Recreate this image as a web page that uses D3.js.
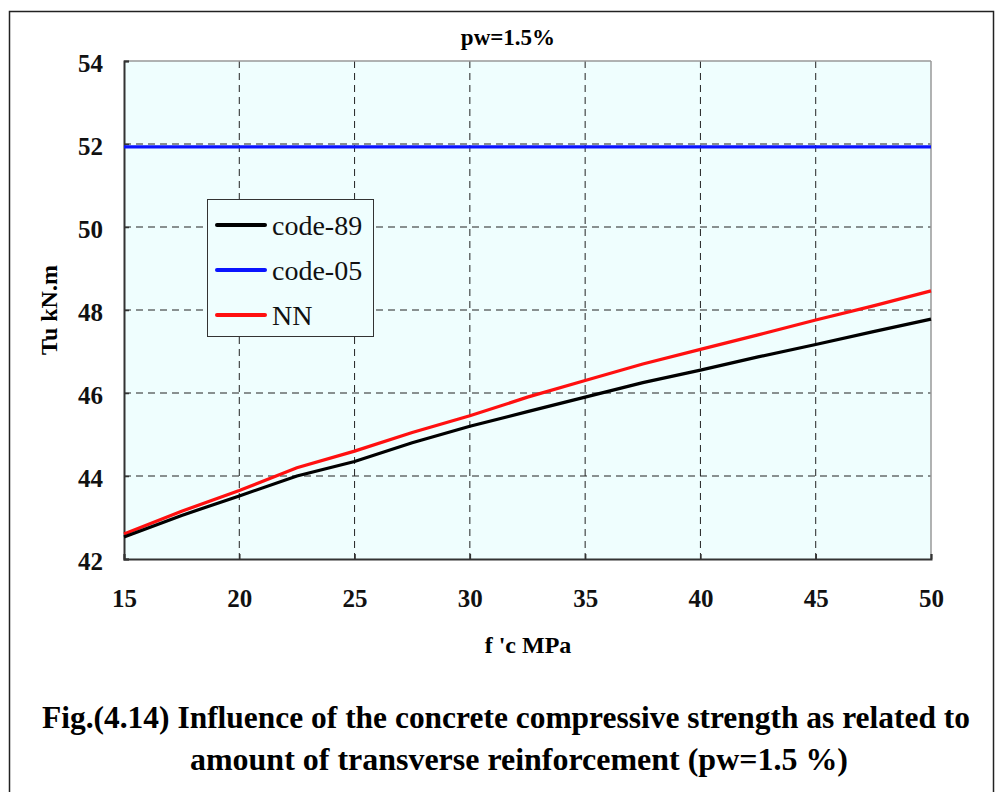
<!DOCTYPE html>
<html>
<head>
<meta charset="utf-8">
<script src="https://cdn.jsdelivr.net/npm/d3@7"></script>
<style>
  body { margin: 0; background: #fff; }
  text { font-family: "Liberation Serif", "Times New Roman", serif; }
</style>
</head>
<body>
<div id="chart"></div>
<script>
var fc = [15, 17.5, 20, 22.5, 25, 27.5, 30, 32.5, 35, 37.5, 40, 42.5, 45, 47.5, 50];
var code89 = [42.53, 43.05, 43.52, 44.0, 44.35, 44.8, 45.2, 45.55, 45.9, 46.25, 46.55, 46.87, 47.17, 47.48, 47.78];
var code05 = [51.93, 51.93, 51.93, 51.93, 51.93, 51.93, 51.93, 51.93, 51.93, 51.93, 51.93, 51.93, 51.93, 51.93, 51.93];
var nn = [42.6, 43.15, 43.65, 44.2, 44.6, 45.05, 45.45, 45.9, 46.3, 46.7, 47.05, 47.4, 47.76, 48.1, 48.46];
var xTicks = [15, 20, 25, 30, 35, 40, 45, 50];
var yTicks = [42, 44, 46, 48, 50, 52, 54];

var W = 997, H = 792;
var mL = 124, mR = 931, mT = 61, mB = 559;

var svg = d3.select("#chart").append("svg")
  .attr("width", W).attr("height", H);

// outer frame
svg.append("rect")
  .attr("x", 9.5).attr("y", 11.5)
  .attr("width", 984).attr("height", 800)
  .attr("fill", "none").attr("stroke", "#222").attr("stroke-width", 1.5);

var x = d3.scaleLinear().domain([15, 50]).range([mL, mR]);
var y = d3.scaleLinear().domain([42, 54]).range([mB, mT]);

svg.append("rect")
  .attr("x", mL).attr("y", mT)
  .attr("width", mR - mL).attr("height", mB - mT)
  .attr("fill", "#effefe");

// grid
svg.append("g").selectAll("line")
  .data(xTicks.slice(1, -1)).enter().append("line")
  .attr("x1", function(d) { return x(d); }).attr("x2", function(d) { return x(d); })
  .attr("y1", mT).attr("y2", mB)
  .attr("stroke", "#222").attr("stroke-width", 1).attr("stroke-dasharray", "7,5");

svg.append("g").selectAll("line")
  .data(yTicks.slice(1, -1)).enter().append("line")
  .attr("y1", function(d) { return y(d); }).attr("y2", function(d) { return y(d); })
  .attr("x1", mL).attr("x2", mR)
  .attr("stroke", "#222").attr("stroke-width", 1).attr("stroke-dasharray", "7,5");

// plot border: top/right grey, left/bottom dark
svg.append("line").attr("x1", mL).attr("x2", mR).attr("y1", mT).attr("y2", mT)
  .attr("stroke", "#999").attr("stroke-width", 1.5);
svg.append("line").attr("x1", mR).attr("x2", mR).attr("y1", mT).attr("y2", mB)
  .attr("stroke", "#999").attr("stroke-width", 1.5);

var xAxis = svg.append("g")
  .attr("transform", "translate(0," + mB + ")")
  .call(d3.axisBottom(x).tickValues(xTicks).tickSize(-5).tickPadding(30));
var yAxis = svg.append("g")
  .attr("transform", "translate(" + mL + ",0)")
  .call(d3.axisLeft(y).tickValues(yTicks).tickSize(-5).tickPadding(21));

[xAxis, yAxis].forEach(function(a) {
  a.select(".domain").attr("stroke", "#333").attr("stroke-width", 2);
  a.selectAll(".tick line").attr("stroke", "#333").attr("stroke-width", 1.5);
  a.selectAll("text")
    .attr("font-size", 25).attr("font-weight", "bold").attr("fill", "#111");
});
yAxis.selectAll("text").attr("dy", "0.42em");

// lines
var series = [
  { name: "code-89", values: code89, color: "#000000" },
  { name: "code-05", values: code05, color: "#0a14ff" },
  { name: "NN", values: nn, color: "#ff1010" }
];

var line = d3.line()
  .x(function(d, i) { return x(fc[i]); })
  .y(function(d) { return y(d); });

svg.append("g").selectAll("path")
  .data([series[1], series[2], series[0]]).enter().append("path")
  .attr("d", function(s) { return line(s.values); })
  .attr("fill", "none")
  .attr("stroke", function(s) { return s.color; })
  .attr("stroke-width", 3.2);

// legend
var leg = svg.append("g").attr("transform", "translate(207,199)");
leg.append("rect").attr("x", 0.5).attr("y", 0.5).attr("width", 166).attr("height", 137)
  .attr("fill", "#effefe").attr("stroke", "#333").attr("stroke-width", 1);
var item = leg.selectAll("g.item").data(series).enter().append("g")
  .attr("transform", function(d, i) { return "translate(0," + (26 + i * 45) + ")"; });
item.append("line").attr("x1", 10).attr("x2", 58).attr("y1", 0).attr("y2", 0)
  .attr("stroke", function(d) { return d.color; }).attr("stroke-width", 4)
  .attr("stroke-linecap", "round");
item.append("text").attr("x", 65).attr("y", 10)
  .attr("font-size", 28).attr("fill", "#111")
  .text(function(d) { return d.name; });

// titles
svg.append("text").attr("x", 508).attr("y", 45).attr("text-anchor", "middle")
  .attr("font-size", 23).attr("font-weight", "bold").text("pw=1.5%");

svg.append("text").attr("x", 528).attr("y", 653).attr("text-anchor", "middle")
  .attr("font-size", 24).attr("font-weight", "bold").text("f 'c MPa");

svg.append("text")
  .attr("transform", "translate(57,310) rotate(-90)")
  .attr("text-anchor", "middle")
  .attr("font-size", 24).attr("font-weight", "bold").text("Tu kN.m");

svg.append("text").attr("x", 506).attr("y", 728).attr("text-anchor", "middle")
  .attr("font-size", 31).attr("font-weight", "bold")
  .attr("textLength", 928).attr("lengthAdjust", "spacingAndGlyphs")
  .text("Fig.(4.14) Influence of the concrete compressive strength as related to");
svg.append("text").attr("x", 519).attr("y", 770).attr("text-anchor", "middle")
  .attr("font-size", 31).attr("font-weight", "bold")
  .attr("textLength", 658).attr("lengthAdjust", "spacingAndGlyphs")
  .text("amount of transverse reinforcement (pw=1.5 %)");
</script>
</body>
</html>
